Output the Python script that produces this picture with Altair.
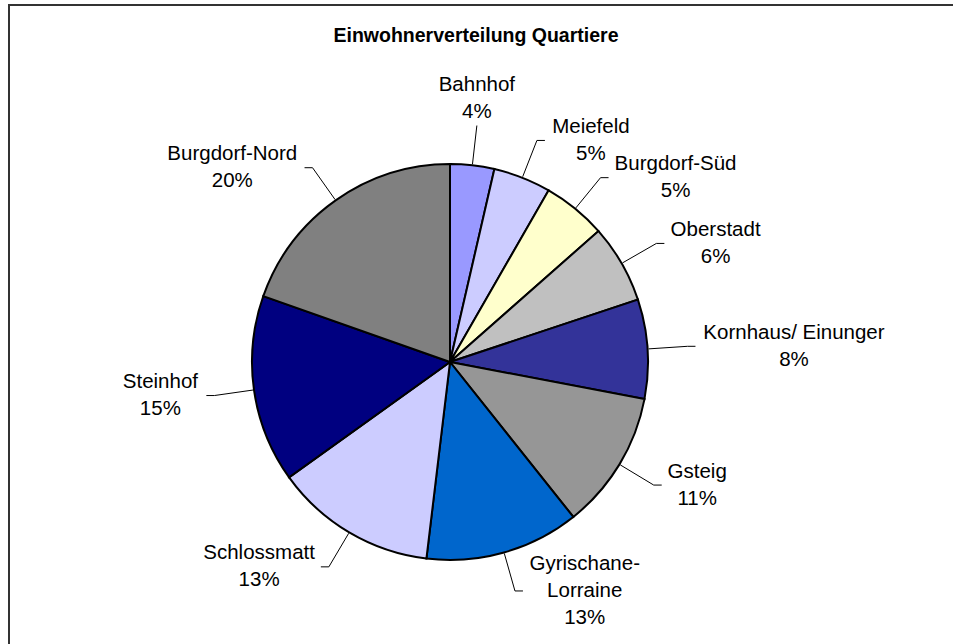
import altair as alt
import pandas as pd

# ---- data ----
names = [
    "Bahnhof",
    "Meiefeld",
    "Burgdorf-Süd",
    "Oberstadt",
    "Kornhaus/ Einunger",
    "Gsteig",
    "Gyrischane-\nLorraine",
    "Schlossmatt",
    "Steinhof",
    "Burgdorf-Nord",
]
values = [3.6, 4.7, 5.2, 6.4, 8.1, 11.3, 12.6, 13.2, 15.3, 19.6]
colors = [
    "#9999FF", "#CCCCFF", "#FFFFCC", "#C0C0C0", "#333399",
    "#969696", "#0066CC", "#CCCCFF", "#000080", "#808080",
]
title_text = "Einwohnerverteilung Quartiere"

# ---- layout constants ----
CX, CY, R = 450, 362, 198
R_LEAD = 238
FONT = "Liberation Sans"
FS = 20.5
LH = 27
CHAR_W = 10.5

df = pd.DataFrame({
    "name": names,
    "value": values,
    "idx": list(range(len(names))),
    "maxlen": [max(len(p) for p in n.split("\n")) for n in names],
    "nlines": [n.count("\n") + 2 for n in names],
})

base = alt.Chart(df)

pie = base.mark_arc(radius=R, stroke="black", strokeWidth=2).encode(
    theta=alt.Theta("value:Q", stack=True),
    order=alt.Order("idx:Q"),
    color=alt.Color("name:N", scale=alt.Scale(domain=names, range=colors), legend=None),
    x=alt.value(CX),
    y=alt.value(CY),
)

geo = (
    base.transform_joinaggregate(total="sum(value)")
    .transform_window(cum="sum(value)", sort=[alt.SortField("idx", order="ascending")])
    .transform_calculate(mid="((datum.cum - datum.value / 2) / datum.total) * 2 * PI")
    .transform_calculate(sx="sin(datum.mid)")
    .transform_calculate(cx="cos(datum.mid)")
    .transform_calculate(side="abs(datum.sx) < 0.25 ? 0 : (datum.sx > 0 ? 1 : -1)")
    .transform_calculate(ex=f"{CX} + {R + 1} * datum.sx")
    .transform_calculate(ey=f"{CY} - {R + 1} * datum.cx")
    .transform_calculate(lx=f"{CX} + {R_LEAD} * datum.sx")
    .transform_calculate(ly=f"{CY} - {R_LEAD} * datum.cx")
    .transform_calculate(tx="datum.lx + datum.side * 8")
    .transform_calculate(px=f"datum.lx + datum.side * (datum.maxlen * {CHAR_W / 2} + 12)")
    .transform_calculate(
        pyc=f"datum.side == 0 ? (datum.cx > 0 ? datum.ly - {LH} : datum.ly + {LH}) : datum.ly"
    )
    .transform_calculate(py=f"datum.pyc - (datum.nlines - 1) * {LH / 2}")
    .transform_calculate(label="datum.name + '\\n' + round(datum.value) + '%'")
)

leaders = geo.mark_rule(color="#000000", strokeWidth=1).encode(
    x=alt.X("ex:Q", scale=None),
    y=alt.Y("ey:Q", scale=None),
    x2="lx:Q",
    y2="ly:Q",
)

ticks = geo.transform_filter("datum.side != 0").mark_rule(color="#000000", strokeWidth=1).encode(
    x=alt.X("lx:Q", scale=None),
    y=alt.Y("ly:Q", scale=None),
    x2="tx:Q",
    y2="ly:Q",
)

labels = geo.mark_text(
    font=FONT, fontSize=FS, lineBreak="\n", lineHeight=LH,
    align="center", baseline="middle", color="#000000",
).encode(
    x=alt.X("px:Q", scale=None),
    y=alt.Y("py:Q", scale=None),
    text="label:N",
)

one = alt.Chart(pd.DataFrame({"t": [title_text]}))

title_mark = one.mark_text(
    font=FONT, fontSize=19.5, fontWeight="bold", align="center", baseline="middle", color="#000000"
).encode(x=alt.value(476), y=alt.value(36), text="t:N")

top_border = one.mark_rule(color="#333333", strokeWidth=2).encode(
    x=alt.value(8), x2=alt.value(953), y=alt.value(5)
)
left_border = one.mark_rule(color="#333333", strokeWidth=2).encode(
    x=alt.value(9), y=alt.value(4), y2=alt.value(644)
)

chart = alt.layer(
    pie, leaders, ticks, labels, title_mark, top_border, left_border
).properties(
    width=953, height=644, padding=0,
    autosize=alt.AutoSizeParams(type="none"),
    background="white",
).configure_view(stroke="transparent")

chart.save("out.html", embed_options={"renderer": "svg", "actions": False})
